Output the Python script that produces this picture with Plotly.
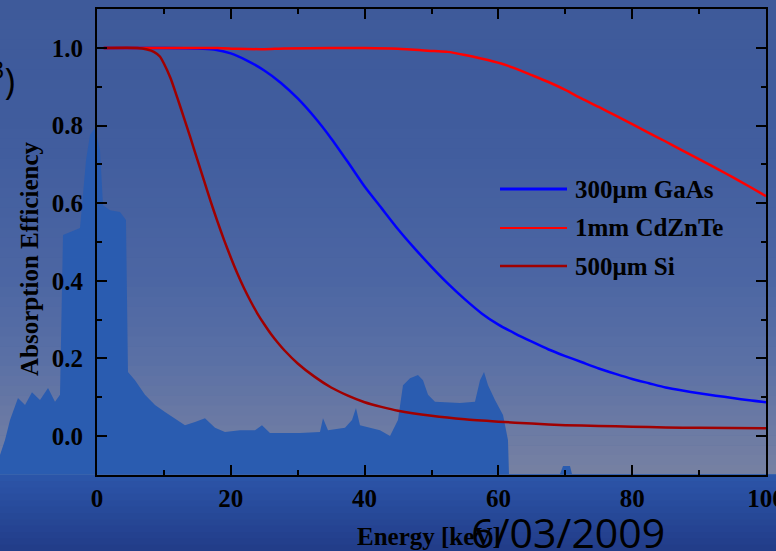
import plotly.graph_objects as go

# ------------------------------------------------------------------ data
gaas_keV = [1, 10, 15, 17.5, 20, 22.5, 25, 27.5, 30, 32.5, 35, 37.5, 40, 42.5, 45, 47.5, 50,
            52.5, 55, 57.5, 60, 62.5, 65, 67.5, 70, 72.5, 75, 77.5, 80, 82.5, 85, 87.5, 90,
            92.5, 95, 97.5, 100]
gaas_eff = [1.0, 1.0, 0.999, 0.996, 0.986, 0.967, 0.942, 0.91, 0.87, 0.822, 0.767, 0.706,
            0.643, 0.588, 0.533, 0.483, 0.436, 0.392, 0.352, 0.316, 0.287, 0.264, 0.243,
            0.223, 0.206, 0.19, 0.174, 0.16, 0.147, 0.136, 0.125, 0.117, 0.11, 0.104, 0.098,
            0.092, 0.087]

czt_keV = [1, 10, 18, 21, 25, 28, 35, 40, 45, 50.4, 52.4, 55, 57.4, 60.4, 62.4, 65, 67.4, 70,
           72.4, 75, 77.4, 80, 82.4, 85, 87.4, 90.4, 93, 95, 97.5, 100]
czt_eff = [1.0, 1.0, 1.0, 0.998, 0.997, 0.999, 1.0, 1.0, 0.998, 0.992, 0.99, 0.982, 0.973,
           0.96, 0.948, 0.93, 0.913, 0.892, 0.870, 0.848, 0.827, 0.804, 0.782, 0.759, 0.737,
           0.71, 0.686, 0.667, 0.643, 0.618]

si_keV = [1, 6, 7.5, 8.5, 9.4, 10, 11, 12, 13, 14, 15, 16, 17, 18, 19, 20, 21, 22, 23, 24,
          25, 26, 27, 28, 30, 32.5, 35, 37.5, 40, 42.5, 45, 50, 55, 60, 65, 70, 75, 80, 85,
          90, 100]
si_eff = [1.0, 1.0, 0.996, 0.99, 0.978, 0.96, 0.922, 0.872, 0.82, 0.767, 0.712, 0.658, 0.604,
          0.553, 0.505, 0.46, 0.418, 0.38, 0.346, 0.315, 0.288, 0.263, 0.241, 0.221, 0.187,
          0.153, 0.125, 0.104, 0.087, 0.075, 0.065, 0.052, 0.043, 0.037, 0.032, 0.028,
          0.026, 0.024, 0.022, 0.021, 0.020]

series_names = ["300μm GaAs", "1mm CdZnTe", "500μm Si"]
series_colors = ["#0000ff", "#ff0000", "#a00000"]

x_tick_vals = [0, 20, 40, 60, 80, 100]
x_tick_text = ["0", "20", "40", "60", "80", "100"]
y_tick_vals = [0.0, 0.2, 0.4, 0.6, 0.8, 1.0]
y_tick_text = ["0.0", "0.2", "0.4", "0.6", "0.8", "1.0"]

# faint background spectrum of the slide (arbitrary level units)
spectrum_keV = [-14.5, -13.75, -13.0, -11.81, -10.76, -9.72, -8.52, -7.32, -6.28, -5.53, -5.08,
                -4.04, -2.54, -1.64, -1.05, -0.30, 0.45, 0.90, 1.94, 3.44, 4.33, 4.63, 5.68,
                7.17, 8.67, 10.16, 11.66, 13.15, 14.65, 16.14, 17.64, 19.13, 21.38, 23.62,
                24.66, 25.86, 30.34, 33.33, 33.78, 34.53, 37.07, 38.12, 38.71, 39.31, 42.30,
                43.80, 44.99, 45.74, 46.79, 47.98, 48.73, 49.48, 50.52, 54.26, 56.50, 57.25,
                57.85, 58.45, 59.49, 60.69, 61.43, 61.58, 69.21, 69.66, 70.70, 71.0, 101.5]
spectrum_level = [-0.049, -0.010, 0.041, 0.098, 0.080, 0.113, 0.093, 0.124, 0.088, 0.106, 0.518,
                  0.526, 0.536, 0.711, 0.776, 0.794, 0.737, 0.595, 0.582, 0.577, 0.557, 0.165,
                  0.144, 0.106, 0.080, 0.062, 0.046, 0.028, 0.036, 0.046, 0.021, 0.010, 0.015,
                  0.015, 0.028, 0.008, 0.008, 0.010, 0.046, 0.015, 0.021, 0.041, 0.072, 0.028,
                  0.015, 0.0, 0.041, 0.131, 0.149, 0.157, 0.144, 0.106, 0.088, 0.085, 0.088,
                  0.144, 0.165, 0.131, 0.093, 0.054, -0.010, -0.098, -0.098, -0.077, -0.077,
                  -0.098, -0.098]

# ------------------------------------------------------------------ geometry
W, H = 776, 551
PL, PR, PT, PB = 97, 766, 9.2, 474.8
X_RANGE = [0, 100]
Y_RANGE = [-0.1, 1.1]
kx = (X_RANGE[1] - X_RANGE[0]) / (PR - PL)
ky = (Y_RANGE[1] - Y_RANGE[0]) / (PB - PT)
BG_X = [X_RANGE[0] - PL * kx, X_RANGE[1] + (W - PR) * kx]
BG_Y = [Y_RANGE[0] - (H - PB) * ky, Y_RANGE[1] + PT * ky]


def fx(px):
    return px / W


def fy(py):
    return 1 - py / H


SERIF = "Liberation Serif, Times New Roman, serif"
BOLD = dict(family=SERIF, size=25, color="black", weight="bold")
SANS = "Open Sans, DejaVu Sans, sans-serif"

fig = go.Figure()

# background spectrum on a hidden full-canvas axis pair
fig.add_trace(go.Scatter(x=spectrum_keV, y=[Y_RANGE[0]] * len(spectrum_keV), mode="lines",
                         line=dict(width=0, color="rgba(0,0,0,0)"), hoverinfo="skip",
                         showlegend=False, xaxis="x", yaxis="y"))
fig.add_trace(go.Scatter(x=spectrum_keV, y=spectrum_level, mode="lines", fill="tonexty",
                         fillcolor="rgb(42,92,176)", line=dict(width=0, color="rgb(42,92,176)"),
                         hoverinfo="skip", showlegend=False, xaxis="x", yaxis="y"))

# the three absorption curves
for kev, eff, name, col in zip([gaas_keV, czt_keV, si_keV], [gaas_eff, czt_eff, si_eff],
                               series_names, series_colors):
    fig.add_trace(go.Scatter(x=kev, y=eff, name=name, mode="lines",
                             line=dict(color=col, width=2.5, shape="spline", smoothing=0.6),
                             showlegend=False, xaxis="x2", yaxis="y2"))

# ------------------------------------------------------------------ background gradient
def lerp_stops(stops, p):
    for (p0, c0), (p1, c1) in zip(stops, stops[1:]):
        if p0 <= p <= p1:
            t = (p - p0) / (p1 - p0) if p1 > p0 else 0
            return tuple(int(round(a + (b - a) * t)) for a, b in zip(c0, c1))
    return stops[-1][1]


upper = [(0, (62, 90, 154)), (150, (65, 93, 158)), (280, (76, 102, 163)),
         (360, (90, 112, 165)), (420, (106, 121, 164)), (475, (118, 129, 162))]
lower = [(474, (44, 86, 170)), (551, (34, 60, 136))]

shapes = []
n = 48
for i in range(n):
    y0 = PB * i / n
    y1 = PB * (i + 1) / n + 0.6
    c = lerp_stops(upper, (y0 + y1) / 2)
    shapes.append(dict(type="rect", xref="paper", yref="paper", x0=0, x1=1, y0=fy(y1), y1=fy(y0),
                       fillcolor="rgb(%d,%d,%d)" % c, line=dict(width=0), layer="below"))
m = 12
for i in range(m):
    y0 = PB + (H - PB) * i / m
    y1 = PB + (H - PB) * (i + 1) / m + 0.6
    c = lerp_stops(lower, (y0 + y1) / 2)
    shapes.append(dict(type="rect", xref="paper", yref="paper", x0=0, x1=1, y0=fy(y1), y1=fy(y0),
                       fillcolor="rgb(%d,%d,%d)" % c, line=dict(width=0), layer="below"))

# legend drawn as line samples + labels
legend_rows_py = [189, 228, 266]
legend_widths = [3, 2, 2.5]
annotations = []
for name, col, py, lw in zip(series_names, series_colors, legend_rows_py, legend_widths):
    shapes.append(dict(type="line", xref="paper", yref="paper", x0=fx(500), x1=fx(567),
                       y0=fy(py), y1=fy(py), line=dict(color=col, width=lw), layer="above"))
    annotations.append(dict(text=name, xref="paper", yref="paper", x=fx(573), y=fy(py),
                            xanchor="left", yanchor="middle", showarrow=False, font=BOLD))

annotations += [
    dict(text="Energy [keV]", xref="paper", yref="paper", x=fx(429), y=fy(536),
         xanchor="center", yanchor="middle", showarrow=False, font=BOLD),
    dict(text="Absorption Efficiency", xref="paper", yref="paper", x=fx(29), y=fy(259),
         xanchor="center", yanchor="middle", textangle=-90, showarrow=False, font=BOLD),
    dict(text="6/03/2009", xref="paper", yref="paper", x=fx(568), y=fy(532),
         xanchor="center", yanchor="middle", showarrow=False,
         font=dict(family=SANS, size=41, color="black")),
    dict(text="<sup>3</sup>)", xref="paper", yref="paper", x=fx(17), y=fy(79),
         xanchor="right", yanchor="middle", showarrow=False,
         font=dict(family=SANS, size=36, color="black")),
]

axis_common = dict(ticks="inside", ticklen=10, tickwidth=2, tickcolor="black", showline=True,
                   linecolor="black", linewidth=2, mirror="ticks", showgrid=False,
                   zeroline=False, tickfont=BOLD, fixedrange=True,
                   ticklabeloverflow="allow", automargin=False)

fig.update_layout(
    width=W, height=H, autosize=False,
    margin=dict(l=0, r=0, t=0, b=0, pad=0, autoexpand=False),
    paper_bgcolor="rgb(62,90,154)", plot_bgcolor="rgba(0,0,0,0)",
    showlegend=False,
    xaxis=dict(domain=[0, 1], range=BG_X, visible=False, fixedrange=True, anchor="y"),
    yaxis=dict(domain=[0, 1], range=BG_Y, visible=False, fixedrange=True, anchor="x"),
    xaxis2=dict(domain=[fx(PL), fx(PR)], range=X_RANGE, anchor="y2", tickmode="array",
                tickvals=x_tick_vals, ticktext=x_tick_text,
                minor=dict(dtick=10, tick0=0, ticks="inside", ticklen=5, tickwidth=2,
                           tickcolor="black", showgrid=False),
                ticklabelstandoff=0, **axis_common),
    yaxis2=dict(domain=[fy(PB), fy(PT)], range=Y_RANGE, anchor="x2", tickmode="array",
                tickvals=y_tick_vals, ticktext=y_tick_text,
                minor=dict(dtick=0.1, tick0=0, ticks="inside", ticklen=5, tickwidth=2,
                           tickcolor="black", showgrid=False),
                ticklabelstandoff=7, **axis_common),
    shapes=shapes,
    annotations=annotations,
)

fig.write_html("out.html", config={"displayModeBar": False},
               post_script="document.body.style.margin='0px';"
                           "document.body.style.overflow='hidden';"
                           "document.body.style.background='rgb(62,90,154)';")
